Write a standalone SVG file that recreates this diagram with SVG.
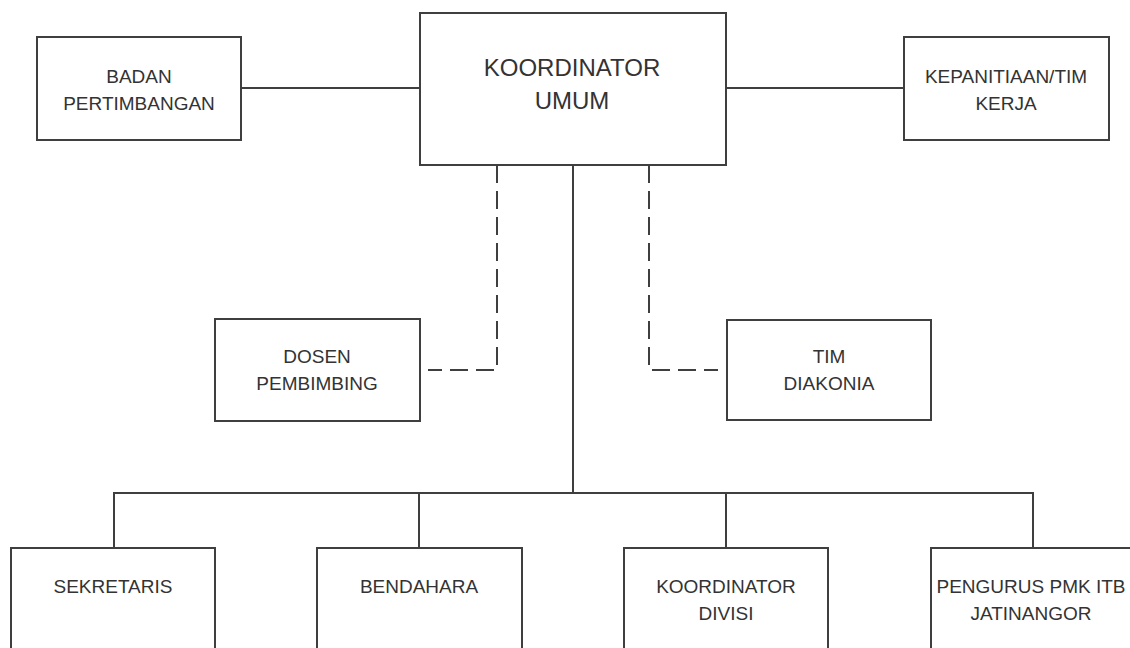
<svg xmlns="http://www.w3.org/2000/svg" width="1130" height="648" viewBox="0 0 1130 648">
<style>
.box{fill:#fff;stroke:#3f3f3f;stroke-width:2}
.t{font-family:"Liberation Sans",Arial,sans-serif;font-size:19px;fill:#333;text-anchor:middle}
.tb{font-size:24px}
.ln{fill:none;stroke:#3f3f3f;stroke-width:2}
.dash{fill:none;stroke:#3f3f3f;stroke-width:2;stroke-dasharray:18 8}
</style>
<rect width="1130" height="648" fill="#fff"/>
<g id="connectors">
<line class="ln" x1="241" y1="88" x2="419" y2="88"/>
<line class="ln" x1="727" y1="88" x2="904" y2="88"/>
<path class="dash" d="M497 165 V370 H428"/>
<path class="dash" d="M649 165 V370 H718"/>
<line class="ln" x1="573" y1="165" x2="573" y2="493"/>
<path class="ln" d="M114 548 V493 H1033 V548"/>
<line class="ln" x1="419" y1="493" x2="419" y2="548"/>
<line class="ln" x1="726" y1="493" x2="726" y2="548"/>
</g>
<g id="badan">
<rect class="box" x="37" y="37" width="204" height="103"/>
<text class="t" x="139" y="83">BADAN</text>
<text class="t" x="139" y="110">PERTIMBANGAN</text>
</g>
<g id="koordinator-umum">
<rect class="box" x="420" y="13" width="306" height="152"/>
<text class="t tb" x="572" y="76">KOORDINATOR</text>
<text class="t tb" x="572" y="109">UMUM</text>
</g>
<g id="kepanitiaan">
<rect class="box" x="904" y="37" width="205" height="103"/>
<text class="t" x="1006" y="83">KEPANITIAAN/TIM</text>
<text class="t" x="1006" y="110">KERJA</text>
</g>
<g id="dosen">
<rect class="box" x="215" y="319" width="205" height="102"/>
<text class="t" x="317" y="363">DOSEN</text>
<text class="t" x="317" y="390">PEMBIMBING</text>
</g>
<g id="tim-diakonia">
<rect class="box" x="727" y="320" width="204" height="100"/>
<text class="t" x="829" y="363">TIM</text>
<text class="t" x="829" y="390">DIAKONIA</text>
</g>
<g id="sekretaris">
<rect class="box" x="11" y="548" width="204" height="120"/>
<text class="t" x="113" y="593">SEKRETARIS</text>
</g>
<g id="bendahara">
<rect class="box" x="317" y="548" width="205" height="120"/>
<text class="t" x="419" y="593">BENDAHARA</text>
</g>
<g id="koordinator-divisi">
<rect class="box" x="624" y="548" width="204" height="120"/>
<text class="t" x="726" y="593">KOORDINATOR</text>
<text class="t" x="726" y="620">DIVISI</text>
</g>
<g id="pengurus">
<rect class="box" x="931" y="548" width="204" height="120"/>
<text class="t" x="1031" y="593">PENGURUS PMK ITB</text>
<text class="t" x="1031" y="620">JATINANGOR</text>
</g>
</svg>
